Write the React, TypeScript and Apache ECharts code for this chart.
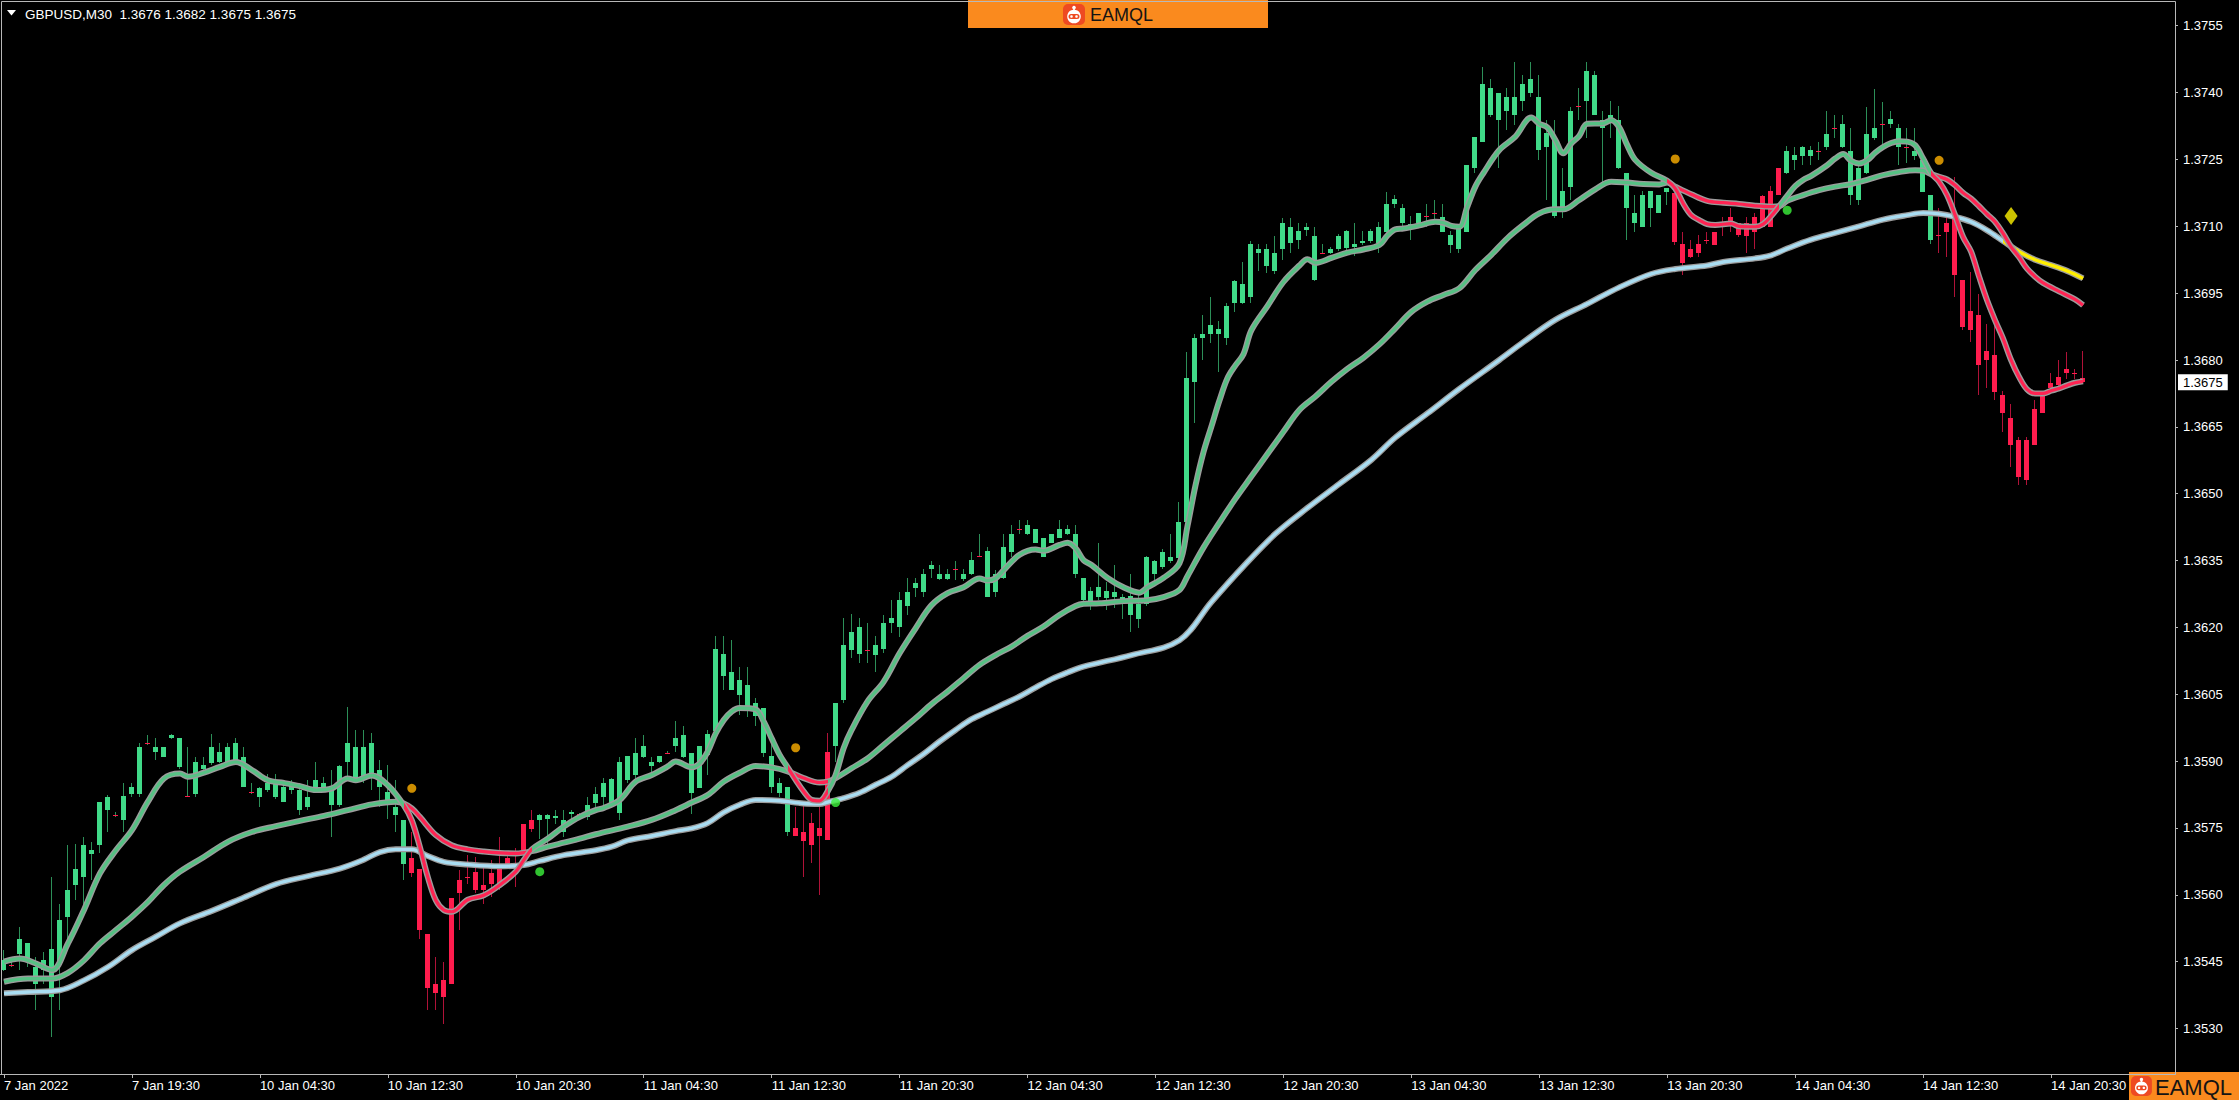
import React, { useEffect, useRef } from 'react';
import * as echarts from 'echarts';

const FONT = '"Liberation Sans", Arial, sans-serif';

const tickLabels = ['7 Jan 2022', '7 Jan 19:30', '10 Jan 04:30', '10 Jan 12:30', '10 Jan 20:30', '11 Jan 04:30', '11 Jan 12:30', '11 Jan 20:30', '12 Jan 04:30', '12 Jan 12:30', '12 Jan 20:30', '13 Jan 04:30', '13 Jan 12:30', '13 Jan 20:30', '14 Jan 04:30', '14 Jan 12:30', '14 Jan 20:30'];
const priceTicks = [1.353, 1.3545, 1.356, 1.3575, 1.359, 1.3605, 1.362, 1.3635, 1.365, 1.3665, 1.368, 1.3695, 1.371, 1.3725, 1.374, 1.3755];

// [open, close, low, high] per M30 bar
const candles = [
  [1.35431, 1.35453, 1.35428, 1.35476], [1.35442, 1.35442, 1.35438, 1.35453], [1.35468, 1.355, 1.35431, 1.35528], [1.35453, 1.35491, 1.35438, 1.35491],
  [1.35438, 1.35401, 1.35341, 1.35461], [1.35431, 1.35453, 1.35401, 1.35472], [1.35371, 1.35479, 1.35281, 1.3564], [1.35446, 1.35543, 1.35341, 1.3558],
  [1.35551, 1.3561, 1.35483, 1.35711], [1.35622, 1.35659, 1.35588, 1.35715], [1.3564, 1.35711, 1.35573, 1.3573], [1.35691, 1.357, 1.35633, 1.35719],
  [1.35711, 1.35809, 1.35693, 1.35809], [1.3579, 1.3582, 1.35741, 1.35824], [1.3578, 1.3578, 1.35775, 1.35785], [1.35767, 1.35822, 1.35741, 1.3585],
  [1.35827, 1.35841, 1.3582, 1.3585], [1.35827, 1.35932, 1.3582, 1.3594], [1.3594, 1.3594, 1.35936, 1.35958], [1.35921, 1.35931, 1.35902, 1.35951],
  [1.3591, 1.35931, 1.3591, 1.35932], [1.35951, 1.35958, 1.35949, 1.3596], [1.35951, 1.35887, 1.35883, 1.35951], [1.35821, 1.35821, 1.3582, 1.35932],
  [1.35827, 1.35898, 1.3582, 1.3591], [1.35883, 1.35891, 1.3588, 1.3591], [1.35895, 1.35931, 1.35891, 1.35961], [1.35898, 1.35921, 1.35895, 1.3594],
  [1.35898, 1.35932, 1.35891, 1.3594], [1.35902, 1.3594, 1.35891, 1.35951], [1.3591, 1.35842, 1.35842, 1.35932], [1.35831, 1.35831, 1.35827, 1.3585],
  [1.3582, 1.35839, 1.35797, 1.35842], [1.35835, 1.3585, 1.35831, 1.35872], [1.3585, 1.3582, 1.35816, 1.35872], [1.35809, 1.35842, 1.35809, 1.35857],
  [1.35835, 1.35846, 1.35827, 1.35857], [1.35835, 1.3579, 1.35779, 1.3585], [1.35797, 1.3582, 1.3579, 1.35857], [1.35842, 1.35857, 1.35835, 1.35898],
  [1.3585, 1.35835, 1.35831, 1.35865], [1.35801, 1.35839, 1.3573, 1.3588], [1.35801, 1.35889, 1.35797, 1.35891], [1.35898, 1.3594, 1.35857, 1.36022],
  [1.35932, 1.35854, 1.3585, 1.35969], [1.35857, 1.35932, 1.3585, 1.35969], [1.3594, 1.35868, 1.35835, 1.35962], [1.3588, 1.35842, 1.35797, 1.35902],
  [1.35831, 1.35812, 1.35771, 1.35891], [1.35797, 1.35779, 1.35741, 1.35857], [1.35767, 1.3567, 1.35633, 1.35767], [1.35682, 1.35649, 1.3564, 1.35741],
  [1.35659, 1.35521, 1.35502, 1.35659], [1.35513, 1.3539, 1.35341, 1.35513], [1.35401, 1.35379, 1.35341, 1.35461], [1.35371, 1.35408, 1.35311, 1.3545],
  [1.35401, 1.35592, 1.35401, 1.35592], [1.35603, 1.35633, 1.35521, 1.35655], [1.3564, 1.3564, 1.35625, 1.35689], [1.35652, 1.3561, 1.35603, 1.35685],
  [1.3561, 1.35622, 1.3558, 1.3567], [1.35625, 1.35648, 1.35595, 1.35678], [1.35625, 1.35659, 1.3561, 1.3573], [1.3567, 1.35682, 1.35667, 1.35689],
  [1.35659, 1.3567, 1.35618, 1.35704], [1.357, 1.3576, 1.357, 1.3576], [1.35747, 1.35769, 1.35741, 1.3579], [1.35767, 1.35779, 1.35726, 1.35782],
  [1.35771, 1.35779, 1.35715, 1.35782], [1.35773, 1.35777, 1.3576, 1.3579], [1.35741, 1.35767, 1.3573, 1.3579], [1.35782, 1.35786, 1.35767, 1.3579],
  [1.35781, 1.35781, 1.35778, 1.35784], [1.35775, 1.35801, 1.35767, 1.3582], [1.35805, 1.35827, 1.35794, 1.35842], [1.3582, 1.3585, 1.35802, 1.35862],
  [1.35859, 1.35798, 1.35794, 1.35862], [1.35783, 1.35899, 1.35768, 1.3591], [1.35858, 1.35912, 1.3585, 1.35912], [1.35869, 1.35919, 1.35858, 1.35951],
  [1.3591, 1.35933, 1.35906, 1.35959], [1.35899, 1.35889, 1.35869, 1.3591], [1.35899, 1.35912, 1.35895, 1.35912], [1.35919, 1.35919, 1.35915, 1.35923],
  [1.35933, 1.35951, 1.35921, 1.35989], [1.35959, 1.3591, 1.35906, 1.35978], [1.35919, 1.35828, 1.35781, 1.35919], [1.35839, 1.35933, 1.35839, 1.35933],
  [1.35914, 1.35961, 1.35869, 1.3597], [1.35968, 1.36151, 1.35968, 1.36181], [1.36141, 1.3609, 1.3606, 1.36181], [1.36101, 1.3606, 1.3606, 1.36172],
  [1.36049, 1.36081, 1.36004, 1.36111], [1.36071, 1.36022, 1.36, 1.36111], [1.36031, 1.36001, 1.35979, 1.36041], [1.3602, 1.35918, 1.3591, 1.3602],
  [1.35912, 1.35843, 1.35828, 1.3594], [1.35852, 1.35828, 1.3582, 1.35862], [1.35843, 1.3574, 1.35731, 1.35843], [1.35749, 1.35731, 1.35731, 1.35798],
  [1.35742, 1.3572, 1.35641, 1.35802], [1.35712, 1.35762, 1.35671, 1.35783], [1.35749, 1.35731, 1.356, 1.35798], [1.35722, 1.35921, 1.35722, 1.35962],
  [1.35933, 1.36031, 1.35899, 1.36031], [1.36037, 1.36161, 1.3603, 1.36221], [1.3615, 1.3619, 1.36131, 1.3623], [1.362, 1.36141, 1.3612, 1.36221],
  [1.3615, 1.3615, 1.3612, 1.36209], [1.36138, 1.36161, 1.36099, 1.36181], [1.36151, 1.36209, 1.36142, 1.36228], [1.36209, 1.36221, 1.36187, 1.36262],
  [1.362, 1.36262, 1.36179, 1.3628], [1.36247, 1.3628, 1.36228, 1.3631], [1.36288, 1.36299, 1.36269, 1.3631], [1.3628, 1.3632, 1.36269, 1.36331],
  [1.36331, 1.3634, 1.3631, 1.3635], [1.36319, 1.36309, 1.36307, 1.36339], [1.36309, 1.36319, 1.36307, 1.36331], [1.36331, 1.36331, 1.36307, 1.3635],
  [1.36309, 1.36319, 1.36305, 1.36331], [1.3632, 1.36351, 1.36318, 1.3637], [1.3636, 1.3636, 1.36359, 1.3641], [1.36372, 1.36269, 1.36269, 1.36381],
  [1.3628, 1.3632, 1.36269, 1.36329], [1.3631, 1.36381, 1.36308, 1.3641], [1.3637, 1.3641, 1.36357, 1.3643], [1.3642, 1.3642, 1.3641, 1.3644],
  [1.3641, 1.3643, 1.36408, 1.3644], [1.3642, 1.3639, 1.36389, 1.3642], [1.364, 1.36359, 1.36357, 1.364], [1.36389, 1.3641, 1.36389, 1.3641],
  [1.364, 1.3642, 1.364, 1.3644], [1.3642, 1.3641, 1.36408, 1.3643], [1.3641, 1.3632, 1.3631, 1.3643], [1.3631, 1.36262, 1.36258, 1.3631],
  [1.36282, 1.36253, 1.3624, 1.3629], [1.36269, 1.3629, 1.36261, 1.3639], [1.36282, 1.36265, 1.3624, 1.36303], [1.36269, 1.3628, 1.36244, 1.3634],
  [1.36269, 1.36261, 1.3622, 1.36274], [1.36271, 1.36228, 1.3619, 1.36319], [1.3622, 1.36253, 1.36199, 1.36278], [1.36253, 1.36359, 1.36249, 1.36361],
  [1.36348, 1.36319, 1.36294, 1.36352], [1.36336, 1.36369, 1.36331, 1.36377], [1.36359, 1.36348, 1.36344, 1.3641], [1.36356, 1.36437, 1.36352, 1.36481],
  [1.36437, 1.36759, 1.3643, 1.36817], [1.36751, 1.3685, 1.36659, 1.36859], [1.3685, 1.36859, 1.36801, 1.369], [1.36859, 1.36879, 1.36838, 1.36942],
  [1.36869, 1.36859, 1.36772, 1.36888], [1.3685, 1.36921, 1.36834, 1.36929], [1.36929, 1.36977, 1.36908, 1.36979], [1.36971, 1.36929, 1.36925, 1.37021],
  [1.36942, 1.3706, 1.36929, 1.37066], [1.3705, 1.37041, 1.37, 1.3706], [1.3705, 1.37012, 1.36996, 1.3706], [1.37, 1.37041, 1.36992, 1.37079],
  [1.3705, 1.37108, 1.37025, 1.37118], [1.37099, 1.37062, 1.37041, 1.37118], [1.3707, 1.37089, 1.3705, 1.37108], [1.37091, 1.37099, 1.37079, 1.37108],
  [1.37079, 1.36979, 1.36977, 1.37099], [1.37041, 1.37041, 1.37037, 1.3706], [1.37041, 1.3705, 1.37037, 1.37054], [1.3705, 1.37079, 1.37045, 1.37083],
  [1.37051, 1.37089, 1.37045, 1.37091], [1.3706, 1.37054, 1.37033, 1.37108], [1.37062, 1.37068, 1.37058, 1.37089], [1.37066, 1.37089, 1.37062, 1.37095],
  [1.37062, 1.37099, 1.37041, 1.37109], [1.37087, 1.37149, 1.37083, 1.37178], [1.37149, 1.37162, 1.37141, 1.3717], [1.3714, 1.37108, 1.37099, 1.3715],
  [1.37105, 1.37099, 1.37069, 1.37122], [1.37108, 1.37129, 1.37107, 1.37129], [1.37122, 1.37122, 1.37099, 1.3715], [1.37129, 1.37129, 1.37108, 1.3716],
  [1.3712, 1.37088, 1.37088, 1.3715], [1.3708, 1.37058, 1.37039, 1.3709], [1.3705, 1.37103, 1.37039, 1.37103], [1.37088, 1.37238, 1.37088, 1.37238],
  [1.3723, 1.373, 1.37219, 1.373], [1.3729, 1.37419, 1.3729, 1.37458], [1.3741, 1.3735, 1.37346, 1.3743], [1.37338, 1.37398, 1.3723, 1.37398],
  [1.37389, 1.37359, 1.37316, 1.3741], [1.3735, 1.37389, 1.37327, 1.37469], [1.3738, 1.37419, 1.37359, 1.37439], [1.37398, 1.3743, 1.37389, 1.37469],
  [1.37389, 1.37271, 1.37249, 1.37439], [1.37279, 1.37309, 1.3716, 1.37338], [1.373, 1.37122, 1.37118, 1.37338], [1.37144, 1.3718, 1.37118, 1.3723],
  [1.37189, 1.37359, 1.3716, 1.37368], [1.3737, 1.3737, 1.37338, 1.3741], [1.3738, 1.37449, 1.37297, 1.37469], [1.37439, 1.3735, 1.3735, 1.37449],
  [1.37338, 1.3732, 1.372, 1.37359], [1.37338, 1.3735, 1.37297, 1.3738], [1.37338, 1.3723, 1.37228, 1.3737], [1.37219, 1.3714, 1.37069, 1.37219],
  [1.37129, 1.37108, 1.37088, 1.3717], [1.37099, 1.3717, 1.37099, 1.3718], [1.3718, 1.3714, 1.37099, 1.3718], [1.37129, 1.3717, 1.37129, 1.3717],
  [1.37178, 1.37185, 1.37148, 1.37185], [1.37174, 1.37065, 1.37058, 1.37174], [1.3706, 1.37018, 1.36991, 1.37088], [1.37032, 1.3705, 1.37028, 1.37069],
  [1.37039, 1.3706, 1.3703, 1.3708], [1.37069, 1.37069, 1.3706, 1.37088], [1.37058, 1.37088, 1.37058, 1.37088], [1.371, 1.3711, 1.37078, 1.37121],
  [1.37108, 1.37121, 1.37088, 1.3714], [1.37108, 1.3708, 1.37076, 1.37108], [1.37078, 1.37108, 1.37039, 1.37121], [1.37088, 1.37121, 1.3705, 1.37129],
  [1.37099, 1.37168, 1.37099, 1.3717], [1.37099, 1.3718, 1.37099, 1.3719], [1.3717, 1.3723, 1.3717, 1.3723], [1.37219, 1.37269, 1.37217, 1.3728],
  [1.3726, 1.37248, 1.37226, 1.37278], [1.37257, 1.37278, 1.37237, 1.3728], [1.37271, 1.37257, 1.37237, 1.3728], [1.37269, 1.37269, 1.37248, 1.3729],
  [1.37278, 1.37308, 1.37271, 1.37359], [1.3732, 1.3732, 1.37299, 1.37349], [1.37329, 1.37278, 1.37275, 1.37349], [1.37269, 1.3717, 1.37147, 1.3732],
  [1.3716, 1.3723, 1.37147, 1.37235], [1.37219, 1.37308, 1.37217, 1.37368], [1.37299, 1.3732, 1.37293, 1.37409], [1.37329, 1.37329, 1.37271, 1.37379],
  [1.37329, 1.3734, 1.3732, 1.37359], [1.3732, 1.37278, 1.37237, 1.37329], [1.37278, 1.37278, 1.37241, 1.3732], [1.37269, 1.37257, 1.37248, 1.3732],
  [1.37248, 1.37177, 1.37177, 1.37248], [1.3717, 1.37069, 1.3706, 1.3717], [1.3708, 1.3708, 1.37039, 1.3714], [1.37108, 1.37088, 1.37032, 1.37133],
  [1.37118, 1.3699, 1.36942, 1.37211], [1.3698, 1.36875, 1.36867, 1.3698], [1.3691, 1.36867, 1.36841, 1.36998], [1.36901, 1.36788, 1.36721, 1.36949],
  [1.368, 1.3682, 1.36738, 1.3688], [1.36811, 1.36729, 1.3671, 1.3688], [1.36721, 1.3668, 1.36639, 1.36731], [1.36669, 1.36609, 1.3656, 1.36701],
  [1.3662, 1.36538, 1.36519, 1.36628], [1.3653, 1.3662, 1.36519, 1.36628], [1.36609, 1.36689, 1.36609, 1.3671], [1.3668, 1.36721, 1.3668, 1.36729],
  [1.36738, 1.36749, 1.36732, 1.3677], [1.36743, 1.36761, 1.3674, 1.368], [1.3677, 1.36779, 1.36758, 1.36818], [1.36771, 1.36771, 1.36758, 1.36779],
  [1.3676, 1.3675, 1.3675, 1.3682],
];

// bars painted in bearish colour by the trend indicator
const bearBars = [[51, 66], [99, 103], [209, 222], [242, 260]];
// sections where the fast and medium averages turn red
const bearLineSections = [[50, 66.3], [98, 103.3], [208, 222.2], [241, 262]];
const slowTurnBar = 249.7;

const fastLine = [
  [0, 1.3545], [2, 1.35457], [4, 1.35446], [6, 1.35431], [8, 1.35491], [10, 1.35566], [12, 1.35648], [14, 1.357], [16, 1.35745], [18, 1.35809],
  [20, 1.35861], [22, 1.35872], [23, 1.35865], [25, 1.35874], [27, 1.35887], [29, 1.35898], [31, 1.3588], [33, 1.35857], [35, 1.35851], [37, 1.35844],
  [39, 1.35835], [41, 1.35839], [43, 1.35861], [44, 1.35857], [46, 1.35868], [48, 1.35846], [50, 1.35801], [51, 1.35767], [52, 1.35708], [53, 1.3564],
  [54, 1.35588], [55, 1.35566], [56, 1.35562], [58, 1.35589], [60, 1.35599], [62, 1.35622], [64, 1.35652], [65, 1.35678], [66, 1.35702], [68, 1.35726],
  [70, 1.35753], [72, 1.35775], [74, 1.3579], [75, 1.35795], [77, 1.35813], [79, 1.35854], [81, 1.35869], [83, 1.35888], [84, 1.35899], [86, 1.35886],
  [87, 1.35895], [88, 1.35921], [89, 1.35962], [90, 1.35992], [91, 1.36011], [92, 1.36019], [94, 1.36016], [95, 1.35989], [96, 1.35951], [97, 1.35914],
  [98, 1.35886], [99, 1.35858], [100, 1.35832], [101, 1.35813], [102, 1.35811], [103, 1.35832], [104, 1.35869], [105, 1.35929], [106, 1.3597], [108, 1.36034],
  [110, 1.36078], [112, 1.36142], [114, 1.36198], [116, 1.3625], [118, 1.36277], [120, 1.3629], [122, 1.3631], [123, 1.36305], [124, 1.3631], [125, 1.36328],
  [127, 1.36363], [129, 1.36375], [130, 1.36372], [132, 1.36385], [133, 1.3639], [134, 1.36378], [135, 1.36351], [136, 1.3634], [138, 1.36311], [140, 1.3629],
  [142, 1.36278], [143, 1.3629], [145, 1.36311], [147, 1.36344], [148, 1.36427], [149, 1.36518], [150, 1.36593], [151, 1.36651], [152, 1.36709], [153, 1.36759],
  [154, 1.36788], [155, 1.36813], [156, 1.36867], [158, 1.36921], [160, 1.36975], [162, 1.37012], [163, 1.37026], [164, 1.37018], [166, 1.37029], [168, 1.37041],
  [170, 1.37048], [172, 1.37058], [173, 1.37079], [174, 1.37093], [175, 1.37095], [177, 1.37102], [179, 1.3711], [180, 1.37108], [181, 1.37101], [182, 1.37099],
  [183, 1.37144], [184, 1.37189], [185, 1.37219], [187, 1.37271], [189, 1.37301], [191, 1.37344], [192, 1.3733], [193, 1.37322], [194, 1.37294], [195, 1.37264],
  [196, 1.37286], [197, 1.37303], [198, 1.3733], [200, 1.37331], [201, 1.37338], [202, 1.37322], [203, 1.37282], [204, 1.37249], [206, 1.3722], [208, 1.37202],
  [209, 1.37185], [210, 1.37151], [211, 1.37125], [212, 1.37114], [213, 1.37105], [214, 1.37103], [216, 1.37106], [217, 1.371], [219, 1.37099], [220, 1.37105],
  [221, 1.37123], [222, 1.37145], [223, 1.37168], [224, 1.3719], [225, 1.37204], [226, 1.37213], [228, 1.37237], [229, 1.37252], [230, 1.37262], [231, 1.37247],
  [232, 1.37241], [233, 1.37248], [234, 1.37265], [235, 1.37278], [236, 1.37287], [237, 1.37291], [238, 1.3729], [239, 1.37282], [240, 1.37252], [241, 1.37219],
  [242, 1.372], [243, 1.3717], [244, 1.37125], [245, 1.37076], [246, 1.37043], [247, 1.36987], [248, 1.36934], [249, 1.36889], [250, 1.36848], [251, 1.368],
  [252, 1.36762], [253, 1.36734], [254, 1.36725], [255, 1.36725], [256, 1.36731], [257, 1.36736], [258, 1.36743], [259, 1.36749], [260, 1.36752],
];

const midLine = [
  [0, 1.35405], [3, 1.35412], [6, 1.35412], [8, 1.35425], [10, 1.35453], [12, 1.35491], [14, 1.35521], [16, 1.35551], [18, 1.35584], [20, 1.35622],
  [22, 1.35652], [25, 1.35685], [28, 1.35719], [31, 1.35741], [34, 1.35754], [37, 1.35766], [40, 1.35777], [43, 1.3579], [46, 1.35803], [49, 1.35809],
  [50, 1.35805], [51, 1.35794], [52, 1.35775], [54, 1.35734], [56, 1.35711], [58, 1.35702], [60, 1.35697], [62, 1.35694], [64, 1.35693], [66, 1.35698],
  [68, 1.35708], [70, 1.35717], [72, 1.35726], [74, 1.35736], [78, 1.35753], [81, 1.35768], [84, 1.3579], [86, 1.35807], [88, 1.35824], [90, 1.35854],
  [92, 1.35874], [94, 1.35889], [96, 1.35886], [98, 1.35877], [100, 1.35862], [102, 1.35852], [103, 1.35854], [104, 1.35862], [106, 1.35884], [108, 1.35906],
  [110, 1.35936], [112, 1.35966], [114, 1.35996], [116, 1.36028], [118, 1.36056], [120, 1.36086], [122, 1.36116], [124, 1.36138], [126, 1.36157], [128, 1.36181],
  [130, 1.36202], [132, 1.36228], [134, 1.36248], [135, 1.36253], [137, 1.36254], [140, 1.36259], [143, 1.36261], [145, 1.36268], [147, 1.36284], [148, 1.36315],
  [150, 1.36379], [152, 1.36435], [154, 1.36489], [156, 1.36539], [158, 1.36589], [160, 1.36639], [162, 1.36688], [164, 1.36718], [166, 1.36751], [168, 1.3678],
  [170, 1.36805], [172, 1.36835], [174, 1.36871], [176, 1.36908], [178, 1.36931], [180, 1.36946], [182, 1.36961], [184, 1.37002], [186, 1.37036], [188, 1.37073],
  [190, 1.37103], [192, 1.37129], [194, 1.37138], [195, 1.37138], [197, 1.37159], [199, 1.37183], [201, 1.372], [203, 1.37198], [205, 1.37195], [207, 1.37194],
  [208, 1.37198], [209, 1.37189], [211, 1.37172], [213, 1.37157], [215, 1.37153], [217, 1.3715], [219, 1.37146], [221, 1.37144], [222, 1.37145], [223, 1.37157],
  [225, 1.3717], [227, 1.37181], [229, 1.37189], [231, 1.37195], [233, 1.37204], [235, 1.37215], [237, 1.37222], [239, 1.37226], [240, 1.37225], [241, 1.37217],
  [242, 1.37211], [243, 1.37205], [244, 1.37192], [245, 1.37175], [246, 1.37162], [247, 1.37145], [248, 1.37127], [249, 1.3711], [250, 1.37084], [251, 1.37054],
  [252, 1.37031], [253, 1.37005], [254, 1.36987], [255, 1.36973], [257, 1.36954], [259, 1.36936], [260, 1.36923],
];

const slowLine = [
  [0, 1.35379], [3, 1.35382], [7, 1.35386], [10, 1.35408], [13, 1.35438], [16, 1.35476], [19, 1.35506], [22, 1.35536], [26, 1.35564], [30, 1.35594],
  [34, 1.35624], [38, 1.35642], [42, 1.35659], [45, 1.35679], [47, 1.35696], [49, 1.35702], [51, 1.35702], [53, 1.35687], [55, 1.35674], [58, 1.35668],
  [62, 1.35664], [65, 1.35667], [67, 1.35676], [70, 1.35689], [74, 1.357], [76, 1.35708], [78, 1.35722], [81, 1.35732], [84, 1.35743], [86, 1.35749],
  [88, 1.35761], [90, 1.35785], [92, 1.35802], [94, 1.35813], [97, 1.35811], [100, 1.35805], [102, 1.35804], [103, 1.35808], [105, 1.35817], [107, 1.35829],
  [109, 1.35847], [111, 1.35865], [113, 1.35891], [115, 1.35916], [117, 1.35944], [119, 1.3597], [121, 1.35994], [123, 1.36011], [125, 1.36028], [127, 1.36045],
  [129, 1.36065], [131, 1.36084], [133, 1.36099], [135, 1.36112], [141, 1.36138], [147, 1.36171], [151, 1.36257], [155, 1.36337], [159, 1.3641], [163, 1.36468],
  [167, 1.36522], [171, 1.36576], [174, 1.36626], [178, 1.3668], [182, 1.36735], [187, 1.368], [190, 1.3684], [194, 1.3689], [198, 1.36926], [202, 1.36963],
  [206, 1.36993], [209, 1.37004], [213, 1.37012], [215, 1.3702], [219, 1.37028], [221, 1.37035], [223, 1.3705], [226, 1.3707], [229, 1.37085], [232, 1.371],
  [235, 1.37115], [238, 1.37125], [240, 1.3713], [242, 1.37128], [244, 1.37121], [246, 1.3711], [248, 1.37091], [250, 1.37067], [252, 1.37043], [254, 1.37025],
  [256, 1.37013], [258, 1.37], [260, 1.36983],
];

const orangeSignals = [[51, 1.35839], [99, 1.3593], [209, 1.37251], [242, 1.37248]];
const greenSignals = [[67, 1.35652], [104, 1.35807], [223, 1.37136]];
const diamondSignals = [[251, 1.37123]];

const lastQuote = { open: 1.3676, high: 1.3682, low: 1.3675, close: 1.3675 };
const symbolName = 'GBPUSD,M30';
const brand = 'EAMQL';

const TOTAL_SLOTS = 272;
const GREEN = '#40DA88';
const GREEN_WICK = '#2C8F58';
const RED = '#FF1C4D';
const RED_WICK = '#B01238';
const LINE_GREEN = '#56C184';
const LINE_RED = '#FF2352';
const LINE_BLUE = '#A9DDF2';
const LINE_YELLOW = '#FFEE00';
const OUTLINE = '#9C9C9C';
const ORANGE = '#FA8A1E';

function logoIcon(x: number, y: number, s: number) {
  return {
    type: 'group',
    x,
    y,
    scaleX: s,
    scaleY: s,
    children: [
      { type: 'rect', shape: { x: 0, y: 0, width: 22, height: 21, r: 5 }, style: { fill: '#EE4A22' } },
      { type: 'line', shape: { x1: 11, y1: 4, x2: 11, y2: 7 }, style: { stroke: '#fff', lineWidth: 1.5 } },
      { type: 'circle', shape: { cx: 11, cy: 3.6, r: 1.8 }, style: { fill: '#fff' } },
      { type: 'circle', shape: { cx: 11, cy: 12.5, r: 6.8 }, style: { fill: '#fff' } },
      { type: 'rect', shape: { x: 5.5, y: 10, width: 11, height: 5, r: 2.5 }, style: { fill: '#EE4A22' } },
      { type: 'circle', shape: { cx: 8.5, cy: 12.5, r: 1.3 }, style: { fill: '#fff' } },
      { type: 'circle', shape: { cx: 13.5, cy: 12.5, r: 1.3 }, style: { fill: '#fff' } },
    ],
  };
}

export default function App() {
  const ref = useRef<HTMLDivElement>(null);

  useEffect(() => {
    document.body.style.margin = '0';
    document.body.style.background = '#000';
    if (!ref.current) return;
    const chart = echarts.init(ref.current, null, { renderer: 'svg' });

    const categories = Array.from({ length: TOTAL_SLOTS }, (_, i) =>
      i % 16 === 0 && tickLabels[i / 16] ? tickLabels[i / 16] : ''
    );
    const candleData = candles.map((c, i) => [i, c[0], c[1], c[2], c[3]]);
    const isBear = (i: number) => bearBars.some(([a, b]) => i >= a && i <= b);

    const linePieces: any[] = [];
    let prev = -5;
    bearLineSections.forEach(([a, b]) => {
      linePieces.push({ gte: prev, lt: a, color: LINE_GREEN });
      linePieces.push({ gte: a, lt: b, color: LINE_RED });
      prev = b;
    });
    linePieces.push({ gte: prev, lt: 400, color: LINE_GREEN });

    const lineBase = {
      type: 'line',
      showSymbol: false,
      smooth: 0.35,
      silent: true,
      z: 3,
    };

    const series: any[] = [
      {
        type: 'custom',
        data: candleData,
        encode: { x: 0, y: [1, 2, 3, 4] },
        silent: true,
        z: 2,
        renderItem: (params: any, api: any) => {
          const i = api.value(0);
          const o = api.value(1);
          const c = api.value(2);
          const l = api.value(3);
          const h = api.value(4);
          const pTop = api.coord([i, Math.max(o, c)]);
          const pBot = api.coord([i, Math.min(o, c)]);
          const pHi = api.coord([i, h]);
          const pLo = api.coord([i, l]);
          const cx = Math.round(pTop[0]) - 1;
          const bear = isBear(i);
          const yHi = Math.round(pHi[1]);
          const yLo = Math.round(pLo[1]);
          const children: any[] = [
            {
              type: 'rect',
              shape: { x: cx, y: yHi, width: 1, height: Math.max(1, yLo - yHi) },
              style: { fill: bear ? RED_WICK : GREEN_WICK },
            },
          ];
          if (o === c) {
            children.push({
              type: 'rect',
              shape: { x: cx - 2, y: Math.round(pTop[1]), width: 5, height: 1 },
              style: { fill: RED },
            });
          } else {
            const y1 = Math.round(pTop[1]);
            const y2 = Math.round(pBot[1]);
            children.push({
              type: 'rect',
              shape: { x: cx - 2, y: y1, width: 5, height: Math.max(1, y2 - y1) },
              style: { fill: bear ? RED : GREEN },
            });
          }
          return { type: 'group', children };
        },
      },
      {
        ...lineBase, data: slowLine, lineStyle: { width: 6, color: OUTLINE },
        markLine: {
          silent: true,
          precision: 5,
          symbol: ['none', 'none'],
          data: [{ yAxis: lastQuote.close }],
          lineStyle: { color: 'rgba(0,0,0,0)', width: 0, opacity: 1 },
          label: {
            show: true,
            position: 'end',
            distance: 3,
            opacity: 1,
            formatter: lastQuote.close.toFixed(4),
            color: '#000',
            backgroundColor: '#fff',
            padding: [2, 5, 1, 5],
            fontSize: 13,
            fontFamily: FONT,
          },
        },
      },
      { ...lineBase, data: slowLine, lineStyle: { width: 3.4 } },
      { ...lineBase, data: midLine, lineStyle: { width: 6, color: OUTLINE } },
      { ...lineBase, data: midLine, lineStyle: { width: 3.2 } },
      { ...lineBase, data: fastLine, lineStyle: { width: 6, color: OUTLINE } },
      { ...lineBase, data: fastLine, lineStyle: { width: 3.2 } },
      {
        type: 'scatter', data: orangeSignals, symbol: 'circle', symbolSize: 9, silent: true, z: 5,
        itemStyle: { color: '#FFB000' },
      },
      {
        type: 'scatter', data: greenSignals, symbol: 'circle', symbolSize: 9, silent: true, z: 5,
        itemStyle: { color: '#3CF23C' },
      },
      {
        type: 'scatter', data: diamondSignals, symbol: 'diamond', symbolSize: [13, 18], silent: true, z: 5,
        itemStyle: { color: '#FFF200' },
      },
    ];

    const quoteText = `${symbolName}  ${lastQuote.open.toFixed(4)} ${lastQuote.high.toFixed(4)} ${lastQuote.low.toFixed(4)} ${lastQuote.close.toFixed(4)}`;

    chart.setOption({
      animation: false,
      backgroundColor: '#000',
      grid: { left: 0, right: 64, top: 3, bottom: 26 },
      xAxis: {
        type: 'category',
        data: categories,
        boundaryGap: true,
        axisLine: { show: true, lineStyle: { color: '#b8b8b8', width: 1 } },
        axisTick: { show: true, interval: 15, alignWithLabel: true, length: 4, lineStyle: { color: '#b8b8b8' } },
        axisLabel: {
          show: true,
          interval: 15,
          align: 'left',
          margin: 5,
          color: '#ffffff',
          fontSize: 13,
          fontFamily: FONT,
        },
        splitLine: { show: false },
      },
      yAxis: {
        type: 'value',
        position: 'right',
        min: 1.35198,
        max: 1.37601,
        scale: true,
        axisLine: { show: true, lineStyle: { color: '#b8b8b8', width: 1 } },
        axisTick: { show: true, length: 3, customValues: priceTicks, lineStyle: { color: '#b8b8b8' } },
        axisLabel: {
          show: true,
          customValues: priceTicks,
          formatter: (v: number) => v.toFixed(4),
          color: '#ffffff',
          fontSize: 13,
          fontFamily: FONT,
          margin: 8,
        },
        splitLine: { show: false },
      },
      visualMap: [
        { type: 'piecewise', show: false, dimension: 0, seriesIndex: [4, 6], pieces: linePieces },
        {
          type: 'piecewise', show: false, dimension: 0, seriesIndex: [2],
          pieces: [{ gte: -5, lt: slowTurnBar, color: LINE_BLUE }, { gte: slowTurnBar, lt: 400, color: LINE_YELLOW }],
        },
      ],
      graphic: [
        {
          type: 'rect', z: 50, silent: true,
          shape: { x: 1.5, y: 1.5, width: 2174, height: 1073 },
          style: { fill: 'none', stroke: '#b8b8b8', lineWidth: 1 },
        },
        {
          type: 'polygon', z: 60, silent: true,
          shape: { points: [[7, 10], [16, 10], [11.5, 15.5]] },
          style: { fill: '#fff' },
        },
        {
          type: 'text', z: 60, silent: true, x: 25, y: 14,
          style: { text: quoteText, fill: '#fff', fontSize: 13.5, fontFamily: FONT, verticalAlign: 'middle' },
        },
        {
          type: 'group', z: 70, silent: true,
          children: [
            { type: 'rect', shape: { x: 968, y: 0, width: 300, height: 28 }, style: { fill: ORANGE } },
            logoIcon(1063, 4, 1),
            {
              type: 'text', x: 1090, y: 15,
              style: { text: brand, fill: '#141414', fontSize: 18, fontFamily: FONT, verticalAlign: 'middle' },
            },
          ],
        },
        {
          type: 'group', z: 70, silent: true,
          children: [
            { type: 'rect', shape: { x: 2129, y: 1072, width: 110, height: 28 }, style: { fill: ORANGE } },
            logoIcon(2131, 1076, 0.95),
            {
              type: 'text', x: 2155, y: 1087,
              style: { text: brand, fill: '#141414', fontSize: 22, fontFamily: FONT, verticalAlign: 'middle' },
            },
          ],
        },
      ],
      series,
    });

    return () => {
      chart.dispose();
    };
  }, []);

  return <div ref={ref} style={{ width: 2239, height: 1100, background: '#000' }} />;
}
